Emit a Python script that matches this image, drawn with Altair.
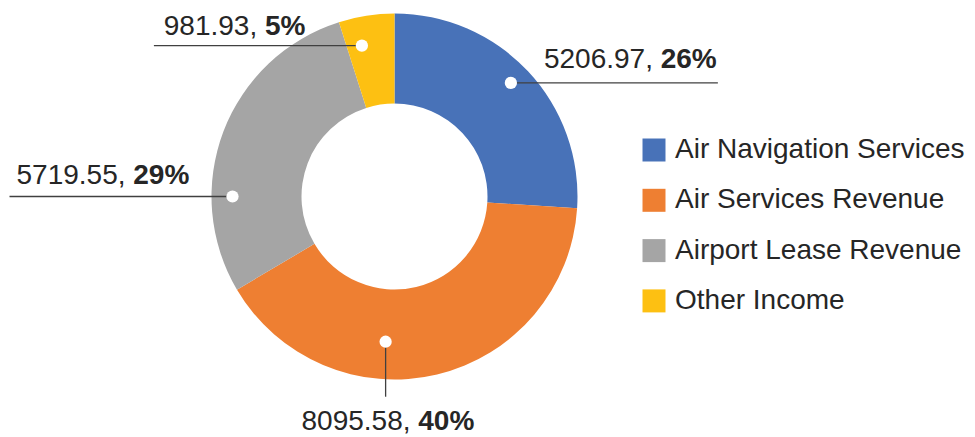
import math
import altair as alt
import pandas as pd

# ---- data ----
categories = ["Air Navigation Services", "Air Services Revenue", "Airport Lease Revenue", "Other Income"]
values = [5206.97, 8095.58, 5719.55, 981.93]
colors = ["#4872B8", "#EE7F32", "#A5A5A5", "#FDC012"]

# ---- layout (pixels inside the chart) ----
W, H = 959, 428
CX, CY = 386.5, 188.5
R_OUT, R_IN = 183, 93
FONT = "Liberation Sans"
FS = 28
TXT = "#262626"
# label-dot placement (polar, around the donut centre)
dot_angle = [45.7, 183.5, 270.0, 347.8]
dot_radius = [162.6, 145.5, 162.0, 154.3]
# leader line end, relative to the dot
end_dx = [207, 0, -223, -208]
end_dy = [0, 55, 0, 0]
# where the bold part of each label starts, and the text baseline
split_x = [652.7, 410.3, 125.3, 257.0]
base_y = [60.3, 422.0, 176.3, 27.0]

total = sum(values)
rows = []
for i, (c, v) in enumerate(zip(categories, values)):
    a = math.radians(dot_angle[i])
    dx = CX + dot_radius[i] * math.sin(a)
    dy = CY - dot_radius[i] * math.cos(a)
    rows.append(dict(
        cat=c, value=v, idx=i,
        num=f"{v:.2f},", pct=f"{round(v / total * 100)}%",
        dx=dx, dy=dy, ex=dx + end_dx[i], ey=dy + end_dy[i],
        sx=split_x[i], sxn=split_x[i] - 0.278 * FS, by=base_y[i],
    ))
df = pd.DataFrame(rows)

base = alt.Chart(df)

arcs = base.mark_arc(outerRadius=R_OUT, innerRadius=R_IN).encode(
    theta=alt.Theta("value:Q", stack=True),
    order=alt.Order("idx:Q"),
    color=alt.Color(
        "cat:N",
        scale=alt.Scale(domain=categories, range=colors),
        sort=categories,
        legend=alt.Legend(
            title=None, orient="none", legendX=632, legendY=128,
            symbolType="square", symbolSize=529, symbolStrokeWidth=0,
            labelFont=FONT, labelFontSize=FS, labelColor=TXT,
            labelOffset=7, rowPadding=22.3, labelLimit=400, padding=0,
        ),
    ),
    x=alt.value(CX),
    y=alt.value(CY),
)

lines = base.mark_rule(color="#404040", strokeWidth=1.3).encode(
    x=alt.X("dx:Q", scale=None), x2="ex:Q",
    y=alt.Y("dy:Q", scale=None), y2="ey:Q",
)

dots = base.mark_point(filled=True, color="white", opacity=1, size=150, shape="circle").encode(
    x=alt.X("dx:Q", scale=None),
    y=alt.Y("dy:Q", scale=None),
)

num_text = base.mark_text(align="right", baseline="alphabetic", font=FONT, fontSize=FS, color=TXT).encode(
    x=alt.X("sxn:Q", scale=None),
    y=alt.Y("by:Q", scale=None),
    text="num:N",
)

pct_text = base.mark_text(align="left", baseline="alphabetic", font=FONT, fontSize=FS, fontWeight="bold", color=TXT).encode(
    x=alt.X("sx:Q", scale=None),
    y=alt.Y("by:Q", scale=None),
    text="pct:N",
)

chart = alt.layer(arcs, lines, dots, num_text, pct_text).properties(
    width=W, height=H, padding=0, autosize=alt.AutoSizeParams(type="none"),
).configure_view(stroke=None)

chart.save("out.html", embed_options={"renderer": "svg", "actions": False})
